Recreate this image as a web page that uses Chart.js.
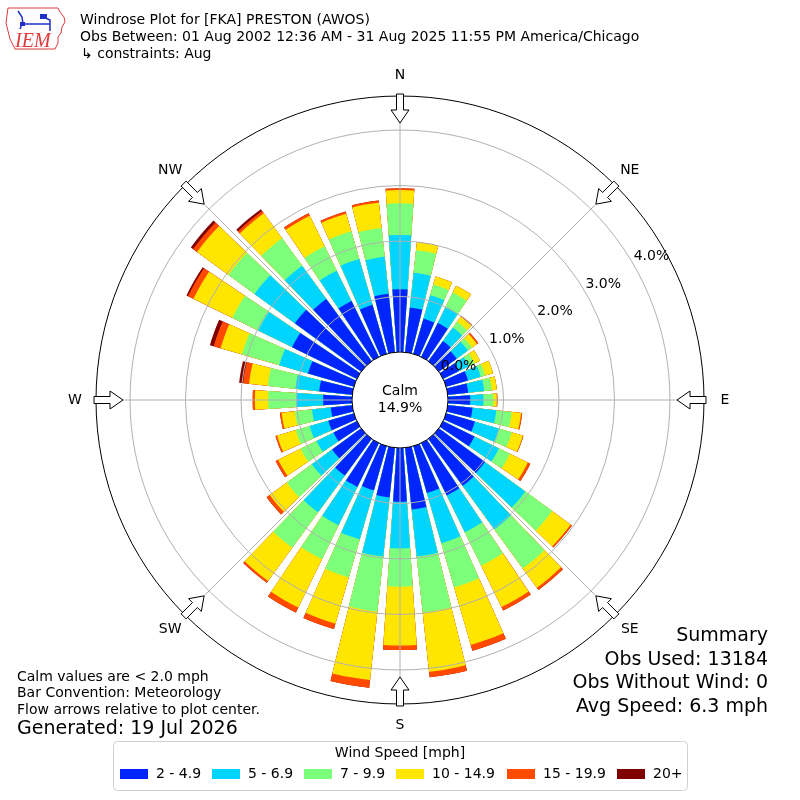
<!DOCTYPE html>
<html>
<head>
<meta charset="utf-8">
<title>Windrose Plot for [FKA] PRESTON (AWOS)</title>
<script src="https://cdn.jsdelivr.net/npm/chart.js@4.4.1/dist/chart.umd.min.js"></script>
<style>
  html, body { margin: 0; padding: 0; background: #fff; }
  #wrap { width: 800px; height: 800px; }
</style>
</head>
<body>
<div id="wrap"><canvas id="rose" width="800" height="800"></canvas></div>
<script>
// wind direction bins (degrees, from which the wind blows)
const directions = [0, 10, 20, 30, 40, 50, 60, 70, 80, 90, 100, 110, 120, 130, 140, 150, 160, 170,
  180, 190, 200, 210, 220, 230, 240, 250, 260, 270, 280, 290, 300, 310, 320, 330, 340, 350];

const speedBins = ['2 - 4.9', '5 - 6.9', '7 - 9.9', '10 - 14.9', '15 - 19.9', '20+'];
const binColors = ['#0025ff', '#00d5ff', '#7cff7a', '#ffe600', '#ff4a00', '#800000'];

// percent of observations per direction, one array per speed bin
const speed2to5 = [1.13, 0.81, 0.66, 0.68, 0.45, 0.40, 0.32, 0.41, 0.37, 0.40, 0.45, 0.54, 0.63, 1.03, 1.05, 1.05, 0.88, 1.12,
  0.97, 0.90, 0.83, 0.88, 0.82, 0.65, 0.47, 0.48, 0.39, 0.52, 0.60, 0.86, 1.30, 1.48, 1.39, 1.12, 0.92, 1.06];
const speed5to7 = [0.98, 0.63, 0.44, 0.32, 0.30, 0.25, 0.20, 0.24, 0.29, 0.24, 0.43, 0.45, 0.49, 0.90, 0.97, 0.74, 0.94, 0.85,
  0.84, 1.07, 0.92, 0.77, 0.82, 0.45, 0.34, 0.35, 0.34, 0.48, 0.43, 0.54, 0.68, 0.90, 0.74, 0.61, 0.86, 0.67];
const speed7to10 = [0.57, 0.41, 0.20, 0.29, 0.13, 0.09, 0.11, 0.08, 0.14, 0.18, 0.28, 0.24, 0.22, 0.60, 0.87, 0.67, 0.83, 1.01,
  0.69, 1.00, 0.71, 0.68, 0.79, 0.56, 0.32, 0.26, 0.31, 0.51, 0.50, 0.70, 0.52, 0.58, 0.61, 0.49, 0.52, 0.52];
const speed10to15 = [0.24, 0.15, 0.15, 0.14, 0.11, 0.11, 0.11, 0.15, 0.09, 0.06, 0.17, 0.21, 0.36, 0.41, 0.43, 0.83, 1.08, 1.08,
  1.06, 1.24, 0.87, 0.97, 0.74, 0.38, 0.45, 0.35, 0.24, 0.24, 0.34, 0.40, 0.78, 0.70, 0.56, 0.61, 0.33, 0.46];
const speed15to20 = [0.03, 0, 0, 0, 0.02, 0.03, 0, 0, 0, 0.01, 0.02, 0.01, 0.05, 0.03, 0.05, 0.07, 0.11, 0.10,
  0.08, 0.14, 0.10, 0.10, 0.04, 0.07, 0.05, 0.03, 0.03, 0.04, 0.11, 0.13, 0.11, 0.09, 0.05, 0.05, 0.04, 0.04];
const speed20up = [0, 0, 0, 0, 0, 0, 0, 0, 0, 0, 0, 0, 0, 0, 0, 0, 0, 0,
  0, 0, 0, 0, 0, 0, 0, 0, 0, 0, 0.07, 0.07, 0.03, 0.05, 0.04, 0, 0, 0];

const tickValues = [0, 1, 2, 3, 4];
const tickLabels = ['0.0%', '1.0%', '2.0%', '3.0%', '4.0%'];
const compassLabels = ['N', 'NE', 'E', 'SE', 'S', 'SW', 'W', 'NW'];
const calmPercent = '14.9%';

const titleLines = [
  'Windrose Plot for [FKA] PRESTON (AWOS)',
  'Obs Between: 01 Aug 2002 12:36 AM - 31 Aug 2025 11:55 PM America/Chicago',
  '\u21b3 constraints: Aug'
];
const noteLines = ['Calm values are < 2.0 mph', 'Bar Convention: Meteorology', 'Flow arrows relative to plot center.'];
const generatedLine = 'Generated: 19 Jul 2026';
const summaryLines = ['Summary', 'Obs Used: 13184', 'Obs Without Wind: 0', 'Avg Speed: 6.3 mph'];

// radial axis: 0% sits on the edge of the calm circle
const rMin = -0.865;
const rMax = 4.613;
const BAR_ANGLE = 7.8;
const GAP_ANGLE = 10 - BAR_ANGLE;
const FONT = '"DejaVu Sans", "Liberation Sans", sans-serif';

const binSeries = [speed2to5, speed5to7, speed7to10, speed10to15, speed15to20, speed20up];

// polar area has no stacking, so each dataset holds the running total and the
// smaller totals are drawn on top. every direction is followed by an empty gap slice.
const labels = [];
directions.forEach((d) => { labels.push(d + '\u00b0'); labels.push(''); });

const datasets = binSeries.map((series, b) => {
  const data = [];
  directions.forEach((d, i) => {
    let total = 0;
    for (let k = 0; k <= b; k++) total += binSeries[k][i];
    data.push(total);
    data.push(rMin);
  });
  return {
    label: speedBins[b],
    data,
    backgroundColor: (ctx) => (ctx.dataIndex % 2 ? 'rgba(0,0,0,0)' : binColors[b]),
    borderWidth: 0,
    angle: (ctx) => (ctx.dataIndex % 2 ? GAP_ANGLE : BAR_ANGLE)
  };
});

function polarPoint(scale, deg, dist) {
  const a = deg * Math.PI / 180;
  return [scale.xCenter + dist * Math.sin(a), scale.yCenter - dist * Math.cos(a)];
}

const calmDisc = {
  id: 'calmDisc',
  afterDatasetsDraw(chart) {
    const s = chart.scales.r;
    const ctx = chart.ctx;
    ctx.save();
    ctx.beginPath();
    ctx.arc(s.xCenter, s.yCenter, s.getDistanceFromCenterForValue(0), 0, Math.PI * 2);
    ctx.fillStyle = '#ffffff';
    ctx.fill();
    ctx.restore();
  }
};

function drawArrow(ctx, s, deg, rTip, rTail) {
  const pts = [[rTip, 0], [rTip + 13, 9], [rTip + 13, 3.5], [rTail, 3.5], [rTail, -3.5], [rTip + 13, -3.5], [rTip + 13, -9]];
  const a = deg * Math.PI / 180;
  const ux = Math.sin(a), uy = -Math.cos(a);
  const vx = Math.cos(a), vy = Math.sin(a);
  ctx.beginPath();
  pts.forEach(([along, perp], i) => {
    const x = s.xCenter + along * ux + perp * vx;
    const y = s.yCenter + along * uy + perp * vy;
    if (i === 0) ctx.moveTo(x, y); else ctx.lineTo(x, y);
  });
  ctx.closePath();
  ctx.fillStyle = '#ffffff';
  ctx.fill();
  ctx.strokeStyle = '#000000';
  ctx.lineWidth = 1;
  ctx.stroke();
}

function drawLogo(ctx) {
  ctx.save();
  ctx.strokeStyle = '#e03a3a';
  ctx.lineWidth = 1;
  ctx.beginPath();
  const outline = [[8, 8], [58, 8], [60, 12], [64, 17], [65, 22], [62, 27], [61, 33], [58, 37], [58, 43], [55, 49],
    [15, 49], [13, 45], [10, 39], [8, 31], [6, 23], [7, 15]];
  outline.forEach(([x, y], i) => (i ? ctx.lineTo(x, y) : ctx.moveTo(x, y)));
  ctx.closePath();
  ctx.stroke();
  ctx.strokeStyle = '#1f2fc8';
  ctx.fillStyle = '#1f2fc8';
  ctx.lineWidth = 1.5;
  ctx.beginPath();
  ctx.moveTo(18, 11); ctx.lineTo(22, 17); ctx.lineTo(23, 24);
  ctx.moveTo(22, 24); ctx.lineTo(50, 24);
  ctx.moveTo(41, 16); ctx.lineTo(50, 20); ctx.lineTo(50, 31);
  ctx.moveTo(22, 24); ctx.lineTo(20, 29);
  ctx.stroke();
  ctx.fillRect(20, 22, 5, 4);
  ctx.fillRect(40, 14, 7, 5);
  ctx.fillStyle = '#e03a3a';
  ctx.font = 'italic 20px "Liberation Serif", "DejaVu Serif", serif';
  ctx.textAlign = 'left';
  ctx.textBaseline = 'alphabetic';
  ctx.fillText('IEM', 15, 47);
  ctx.restore();
}

const roseDecor = {
  id: 'roseDecor',
  afterDraw(chart) {
    const s = chart.scales.r;
    const ctx = chart.ctx;
    const r0 = s.getDistanceFromCenterForValue(0);
    const rOut = s.getDistanceFromCenterForValue(rMax);
    ctx.save();

    // spokes every 45 degrees
    ctx.strokeStyle = '#b0b0b0';
    ctx.lineWidth = 1;
    for (let k = 0; k < 8; k++) {
      const [x1, y1] = polarPoint(s, k * 45, r0);
      const [x2, y2] = polarPoint(s, k * 45, rOut);
      ctx.beginPath();
      ctx.moveTo(x1, y1);
      ctx.lineTo(x2, y2);
      ctx.stroke();
    }

    // percent labels
    ctx.fillStyle = '#000';
    ctx.font = '14px ' + FONT;
    ctx.textAlign = 'center';
    ctx.textBaseline = 'middle';
    tickValues.forEach((v, i) => {
      const [x, y] = polarPoint(s, 60.3, s.getDistanceFromCenterForValue(v) + 19.5);
      ctx.fillText(tickLabels[i], x, y);
    });

    // flow arrows and compass names
    compassLabels.forEach((name, k) => {
      drawArrow(ctx, s, k * 45, rOut - 27, rOut + 2);
      const [x, y] = polarPoint(s, k * 45, rOut + 21);
      ctx.fillStyle = '#000';
      ctx.font = '14px ' + FONT;
      ctx.fillText(name, x, y);
    });

    // calm
    ctx.font = '14px ' + FONT;
    ctx.fillText('Calm', s.xCenter, s.yCenter - 9);
    ctx.fillText(calmPercent, s.xCenter, s.yCenter + 8);

    // header
    drawLogo(ctx);
    ctx.textAlign = 'left';
    ctx.font = '14px ' + FONT;
    ctx.fillText(titleLines[0], 80, 20);
    ctx.fillText(titleLines[1], 80, 37);
    ctx.fillText(titleLines[2], 81, 54);

    // notes, bottom left
    noteLines.forEach((t, i) => ctx.fillText(t, 17, 677 + i * 16.6));
    ctx.font = '19px ' + FONT;
    ctx.fillText(generatedLine, 17, 729);

    // summary, bottom right
    ctx.textAlign = 'right';
    summaryLines.forEach((t, i) => ctx.fillText(t, 768, 636 + i * 23.6));

    // legend
    ctx.beginPath();
    ctx.roundRect(113.5, 741.5, 574, 49, 4);
    ctx.fillStyle = '#ffffff';
    ctx.fill();
    ctx.strokeStyle = '#d0d0d0';
    ctx.stroke();
    ctx.fillStyle = '#000';
    ctx.textAlign = 'center';
    ctx.font = '14px ' + FONT;
    ctx.fillText('Wind Speed [mph]', 400, 753);
    const swatchX = [120, 212, 304, 396, 507, 617];
    ctx.textAlign = 'left';
    speedBins.forEach((name, i) => {
      ctx.fillStyle = binColors[i];
      ctx.fillRect(swatchX[i], 769, 28, 10);
      ctx.fillStyle = '#000';
      ctx.fillText(name, swatchX[i] + 36, 774.5);
    });
    ctx.restore();
  }
};

new Chart(document.getElementById('rose'), {
  type: 'polarArea',
  data: { labels, datasets },
  options: {
    responsive: false,
    animation: false,
    events: [],
    layout: { padding: { left: 96, right: 96, top: 96, bottom: 96 } },
    plugins: { legend: { display: false }, tooltip: { enabled: false }, title: { display: false } },
    scales: {
      r: {
        min: rMin,
        max: rMax,
        startAngle: -BAR_ANGLE / 2,
        ticks: { display: false },
        afterBuildTicks: (scale) => {
          scale.ticks = tickValues.concat([rMax]).map((v) => ({ value: v }));
        },
        grid: {
          z: 1,
          circular: true,
          lineWidth: 1,
          color: (c) => (c.tick && (c.tick.value === 0 || c.tick.value === rMax) ? '#000000' : '#b0b0b0')
        },
        angleLines: { display: false },
        pointLabels: { display: false }
      }
    }
  },
  plugins: [calmDisc, roseDecor]
});
</script>
</body>
</html>
